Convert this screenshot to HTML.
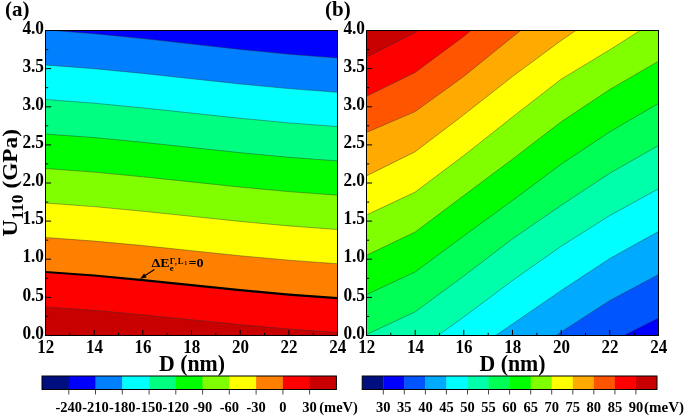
<!DOCTYPE html>
<html lang="en"><head><meta charset="utf-8"><title>Contour maps</title>
<style>html,body{margin:0;padding:0;background:#fff}svg{display:block}text{font-family:"Liberation Serif","Times New Roman",serif;font-weight:bold;fill:#000}</style>
</head><body>
<svg width="685" height="417" viewBox="0 0 685 417">
<rect width="685" height="417" fill="#fff"/>
<defs>
<clipPath id="ca"><rect x="45.5" y="30.5" width="292" height="305"/></clipPath>
<clipPath id="cb"><rect x="366.5" y="30.5" width="292" height="305"/></clipPath>
</defs>
<g clip-path="url(#ca)">
<rect x="45" y="30" width="294" height="306" fill="#C80000"/>
<polygon points="43.5,306.8 45.5,306.9 94.2,310.3 142.8,314.8 191.5,319.7 240.2,324.6 288.8,329 337.5,332.4 339.5,332.5 339.5,-50 43.5,-50" fill="#FF0000"/>
<polygon points="43.5,271.9 45.5,272 94.2,275.5 142.8,280.1 191.5,285.1 240.2,290.1 288.8,294.6 337.5,298.1 339.5,298.2 339.5,-50 43.5,-50" fill="#FF8000"/>
<polygon points="43.5,237.4 45.5,237.5 94.2,241.1 142.8,245.6 191.5,250.7 240.2,255.8 288.8,260.2 337.5,263.8 339.5,263.9 339.5,-50 43.5,-50" fill="#FFFF00"/>
<polygon points="43.5,202.9 45.5,203 94.2,206.6 142.8,211.2 191.5,216.3 240.2,221.4 288.8,225.9 337.5,229.5 339.5,229.6 339.5,-50 43.5,-50" fill="#80FF00"/>
<polygon points="43.5,168.4 45.5,168.5 94.2,172.1 142.8,176.8 191.5,181.9 240.2,187.1 288.8,191.6 337.5,195.2 339.5,195.3 339.5,-50 43.5,-50" fill="#00FF00"/>
<polygon points="43.5,133.9 45.5,134 94.2,137.6 142.8,142.3 191.5,147.5 240.2,152.7 288.8,157.3 337.5,160.9 339.5,161 339.5,-50 43.5,-50" fill="#00FF80"/>
<polygon points="43.5,99.3 45.5,99.5 94.2,103.2 142.8,107.9 191.5,113.1 240.2,118.3 288.8,122.9 337.5,126.6 339.5,126.8 339.5,-50 43.5,-50" fill="#00FFFF"/>
<polygon points="43.5,64.8 45.5,65 94.2,68.7 142.8,73.4 191.5,78.7 240.2,84 288.8,88.6 337.5,92.3 339.5,92.5 339.5,-50 43.5,-50" fill="#0080FF"/>
<polygon points="43.5,29.7 45.5,29.9 94.2,33.7 142.8,38.6 191.5,44 240.2,49.4 288.8,54.2 337.5,58 339.5,58.2 339.5,-50 43.5,-50" fill="#0000FF"/>
<polyline points="43.5,29.7 45.5,29.9 94.2,33.7 142.8,38.6 191.5,44 240.2,49.4 288.8,54.2 337.5,58 339.5,58.2" fill="none" stroke="#303030" stroke-opacity="0.65" stroke-width="0.65"/>
<polyline points="43.5,64.8 45.5,65 94.2,68.7 142.8,73.4 191.5,78.7 240.2,84 288.8,88.6 337.5,92.3 339.5,92.5" fill="none" stroke="#303030" stroke-opacity="0.65" stroke-width="0.65"/>
<polyline points="43.5,99.3 45.5,99.5 94.2,103.2 142.8,107.9 191.5,113.1 240.2,118.3 288.8,122.9 337.5,126.6 339.5,126.8" fill="none" stroke="#303030" stroke-opacity="0.65" stroke-width="0.65"/>
<polyline points="43.5,133.9 45.5,134 94.2,137.6 142.8,142.3 191.5,147.5 240.2,152.7 288.8,157.3 337.5,160.9 339.5,161" fill="none" stroke="#303030" stroke-opacity="0.65" stroke-width="0.65"/>
<polyline points="43.5,168.4 45.5,168.5 94.2,172.1 142.8,176.8 191.5,181.9 240.2,187.1 288.8,191.6 337.5,195.2 339.5,195.3" fill="none" stroke="#303030" stroke-opacity="0.65" stroke-width="0.65"/>
<polyline points="43.5,202.9 45.5,203 94.2,206.6 142.8,211.2 191.5,216.3 240.2,221.4 288.8,225.9 337.5,229.5 339.5,229.6" fill="none" stroke="#303030" stroke-opacity="0.65" stroke-width="0.65"/>
<polyline points="43.5,237.4 45.5,237.5 94.2,241.1 142.8,245.6 191.5,250.7 240.2,255.8 288.8,260.2 337.5,263.8 339.5,263.9" fill="none" stroke="#303030" stroke-opacity="0.65" stroke-width="0.65"/>
<polyline points="43.5,271.9 45.5,272 94.2,275.5 142.8,280.1 191.5,285.1 240.2,290.1 288.8,294.6 337.5,298.1 339.5,298.2" fill="none" stroke="#000" stroke-width="2.2"/>
<polyline points="43.5,306.8 45.5,306.9 94.2,310.3 142.8,314.8 191.5,319.7 240.2,324.6 288.8,329 337.5,332.4 339.5,332.5" fill="none" stroke="#303030" stroke-opacity="0.65" stroke-width="0.65"/>
</g>
<g clip-path="url(#cb)">
<rect x="366" y="30" width="294" height="306" fill="#0000FF"/>
<polygon points="364.5,494.2 366.5,493.3 415.2,471.4 463.8,437.5 512.5,406 561.2,373.5 609.8,342.5 658.5,318.1 660.5,317.1 660.5,-400 364.5,-400" fill="#0055FF"/>
<polygon points="364.5,454.4 366.5,453.5 415.2,431.5 463.8,397.3 512.5,365 561.2,331.9 609.8,300.6 658.5,274.5 660.5,273.4 660.5,-400 364.5,-400" fill="#00AAFF"/>
<polygon points="364.5,414.6 366.5,413.7 415.2,391.6 463.8,357.1 512.5,324 561.2,290.5 609.8,258.5 658.5,231.5 660.5,230.4 660.5,-400 364.5,-400" fill="#00FFFF"/>
<polygon points="364.5,374.8 366.5,373.9 415.2,351.7 463.8,316.9 512.5,280.5 561.2,246.2 609.8,215.5 658.5,188.8 660.5,187.7 660.5,-400 364.5,-400" fill="#00FFAA"/>
<polygon points="364.5,335.4 366.5,334.5 415.2,311.8 463.8,276 512.5,238.8 561.2,205.3 609.8,173.2 658.5,145.5 660.5,144.4 660.5,-400 364.5,-400" fill="#00FF55"/>
<polygon points="364.5,295.5 366.5,294.6 415.2,271.9 463.8,235.9 512.5,200.4 561.2,164.2 609.8,131.8 658.5,103.4 660.5,102.2 660.5,-400 364.5,-400" fill="#00FF00"/>
<polygon points="364.5,256.3 366.5,255.3 415.2,232 463.8,195.6 512.5,159.2 561.2,121.8 609.8,89.5 658.5,61.2 660.5,60 660.5,-400 364.5,-400" fill="#80FF00"/>
<polygon points="364.5,215.9 366.5,215 415.2,192.1 463.8,155.6 512.5,117 561.2,79.2 609.8,49.8 658.5,18.9 660.5,17.7 660.5,-400 364.5,-400" fill="#FFFF00"/>
<polygon points="364.5,176.9 366.5,175.9 415.2,151.7 463.8,114.8 512.5,76.5 561.2,40.5 609.8,7.3 658.5,-23.8 660.5,-25.1 660.5,-400 364.5,-400" fill="#FFAA00"/>
<polygon points="364.5,133.3 366.5,132.4 415.2,111.6 463.8,76.4 512.5,36.9 561.2,-1.1 609.8,-34.6 658.5,-66.5 660.5,-67.9 660.5,-400 364.5,-400" fill="#FF5500"/>
<polygon points="364.5,97.3 366.5,96.3 415.2,72.4 463.8,36.4 512.5,-4.4 561.2,-42.8 609.8,-76.5 658.5,-109.3 660.5,-110.6 660.5,-400 364.5,-400" fill="#FF0000"/>
<polygon points="364.5,58.2 366.5,57.2 415.2,32.5 463.8,-4.7 512.5,-45.4 561.2,-84.4 609.8,-118.4 658.5,-152 660.5,-153.4 660.5,-400 364.5,-400" fill="#C80000"/>
<polyline points="364.5,58.2 366.5,57.2 415.2,32.5 463.8,-4.7 512.5,-45.4 561.2,-84.4 609.8,-118.4 658.5,-152 660.5,-153.4" fill="none" stroke="#303030" stroke-opacity="0.65" stroke-width="0.65"/>
<polyline points="364.5,97.3 366.5,96.3 415.2,72.4 463.8,36.4 512.5,-4.4 561.2,-42.8 609.8,-76.5 658.5,-109.3 660.5,-110.6" fill="none" stroke="#303030" stroke-opacity="0.65" stroke-width="0.65"/>
<polyline points="364.5,133.3 366.5,132.4 415.2,111.6 463.8,76.4 512.5,36.9 561.2,-1.1 609.8,-34.6 658.5,-66.5 660.5,-67.9" fill="none" stroke="#303030" stroke-opacity="0.65" stroke-width="0.65"/>
<polyline points="364.5,176.9 366.5,175.9 415.2,151.7 463.8,114.8 512.5,76.5 561.2,40.5 609.8,7.3 658.5,-23.8 660.5,-25.1" fill="none" stroke="#303030" stroke-opacity="0.65" stroke-width="0.65"/>
<polyline points="364.5,215.9 366.5,215 415.2,192.1 463.8,155.6 512.5,117 561.2,79.2 609.8,49.8 658.5,18.9 660.5,17.7" fill="none" stroke="#303030" stroke-opacity="0.65" stroke-width="0.65"/>
<polyline points="364.5,256.3 366.5,255.3 415.2,232 463.8,195.6 512.5,159.2 561.2,121.8 609.8,89.5 658.5,61.2 660.5,60" fill="none" stroke="#303030" stroke-opacity="0.65" stroke-width="0.65"/>
<polyline points="364.5,295.5 366.5,294.6 415.2,271.9 463.8,235.9 512.5,200.4 561.2,164.2 609.8,131.8 658.5,103.4 660.5,102.2" fill="none" stroke="#303030" stroke-opacity="0.65" stroke-width="0.65"/>
<polyline points="364.5,335.4 366.5,334.5 415.2,311.8 463.8,276 512.5,238.8 561.2,205.3 609.8,173.2 658.5,145.5 660.5,144.4" fill="none" stroke="#303030" stroke-opacity="0.65" stroke-width="0.65"/>
<polyline points="364.5,374.8 366.5,373.9 415.2,351.7 463.8,316.9 512.5,280.5 561.2,246.2 609.8,215.5 658.5,188.8 660.5,187.7" fill="none" stroke="#303030" stroke-opacity="0.65" stroke-width="0.65"/>
<polyline points="364.5,414.6 366.5,413.7 415.2,391.6 463.8,357.1 512.5,324 561.2,290.5 609.8,258.5 658.5,231.5 660.5,230.4" fill="none" stroke="#303030" stroke-opacity="0.65" stroke-width="0.65"/>
<polyline points="364.5,454.4 366.5,453.5 415.2,431.5 463.8,397.3 512.5,365 561.2,331.9 609.8,300.6 658.5,274.5 660.5,273.4" fill="none" stroke="#303030" stroke-opacity="0.65" stroke-width="0.65"/>
<polyline points="364.5,494.2 366.5,493.3 415.2,471.4 463.8,437.5 512.5,406 561.2,373.5 609.8,342.5 658.5,318.1 660.5,317.1" fill="none" stroke="#303030" stroke-opacity="0.65" stroke-width="0.65"/>
</g>
<rect x="45.5" y="30.5" width="292" height="305" fill="none" stroke="#000" stroke-width="1"/>
<path d="M69.8 335.5v-2.7M94.2 335.5v-5.6M118.5 335.5v-2.7M142.8 335.5v-5.6M167.2 335.5v-2.7M191.5 335.5v-5.6M215.8 335.5v-2.7M240.2 335.5v-5.6M264.5 335.5v-2.7M288.8 335.5v-5.6M313.2 335.5v-2.7M45.5 316.4h2.7M45.5 297.4h5.6M45.5 278.3h2.7M45.5 259.2h5.6M45.5 240.2h2.7M45.5 221.1h5.6M45.5 202.1h2.7M45.5 183h5.6M45.5 163.9h2.7M45.5 144.9h5.6M45.5 125.8h2.7M45.5 106.8h5.6M45.5 87.7h2.7M45.5 68.6h5.6M45.5 49.6h2.7" stroke="#000" stroke-width="1" fill="none"/>
<text transform="translate(45.7,353) scale(0.88,1)" font-size="19.3" text-anchor="middle">12</text>
<text transform="translate(94.4,353) scale(0.88,1)" font-size="19.3" text-anchor="middle">14</text>
<text transform="translate(143,353) scale(0.88,1)" font-size="19.3" text-anchor="middle">16</text>
<text transform="translate(191.7,353) scale(0.88,1)" font-size="19.3" text-anchor="middle">18</text>
<text transform="translate(240.4,353) scale(0.88,1)" font-size="19.3" text-anchor="middle">20</text>
<text transform="translate(289,353) scale(0.88,1)" font-size="19.3" text-anchor="middle">22</text>
<text transform="translate(337.7,353) scale(0.88,1)" font-size="19.3" text-anchor="middle">24</text>
<text transform="translate(44,338.6) scale(0.883,1)" font-size="19.6" text-anchor="end">0.0</text>
<text transform="translate(44,300.5) scale(0.883,1)" font-size="19.6" text-anchor="end">0.5</text>
<text transform="translate(44,262.4) scale(0.883,1)" font-size="19.6" text-anchor="end">1.0</text>
<text transform="translate(44,224.2) scale(0.883,1)" font-size="19.6" text-anchor="end">1.5</text>
<text transform="translate(44,186.1) scale(0.883,1)" font-size="19.6" text-anchor="end">2.0</text>
<text transform="translate(44,148) scale(0.883,1)" font-size="19.6" text-anchor="end">2.5</text>
<text transform="translate(44,109.8) scale(0.883,1)" font-size="19.6" text-anchor="end">3.0</text>
<text transform="translate(44,71.7) scale(0.883,1)" font-size="19.6" text-anchor="end">3.5</text>
<text transform="translate(44,33.6) scale(0.883,1)" font-size="19.6" text-anchor="end">4.0</text>
<rect x="366.5" y="30.5" width="292" height="305" fill="none" stroke="#000" stroke-width="1"/>
<path d="M390.8 335.5v-2.7M415.2 335.5v-5.6M439.5 335.5v-2.7M463.8 335.5v-5.6M488.2 335.5v-2.7M512.5 335.5v-5.6M536.8 335.5v-2.7M561.2 335.5v-5.6M585.5 335.5v-2.7M609.8 335.5v-5.6M634.2 335.5v-2.7M366.5 316.4h2.7M366.5 297.4h5.6M366.5 278.3h2.7M366.5 259.2h5.6M366.5 240.2h2.7M366.5 221.1h5.6M366.5 202.1h2.7M366.5 183h5.6M366.5 163.9h2.7M366.5 144.9h5.6M366.5 125.8h2.7M366.5 106.8h5.6M366.5 87.7h2.7M366.5 68.6h5.6M366.5 49.6h2.7" stroke="#000" stroke-width="1" fill="none"/>
<text transform="translate(366.7,353) scale(0.88,1)" font-size="19.3" text-anchor="middle">12</text>
<text transform="translate(415.4,353) scale(0.88,1)" font-size="19.3" text-anchor="middle">14</text>
<text transform="translate(464,353) scale(0.88,1)" font-size="19.3" text-anchor="middle">16</text>
<text transform="translate(512.7,353) scale(0.88,1)" font-size="19.3" text-anchor="middle">18</text>
<text transform="translate(561.4,353) scale(0.88,1)" font-size="19.3" text-anchor="middle">20</text>
<text transform="translate(610,353) scale(0.88,1)" font-size="19.3" text-anchor="middle">22</text>
<text transform="translate(658.7,353) scale(0.88,1)" font-size="19.3" text-anchor="middle">24</text>
<text transform="translate(365,338.6) scale(0.883,1)" font-size="19.6" text-anchor="end">0.0</text>
<text transform="translate(365,300.5) scale(0.883,1)" font-size="19.6" text-anchor="end">0.5</text>
<text transform="translate(365,262.4) scale(0.883,1)" font-size="19.6" text-anchor="end">1.0</text>
<text transform="translate(365,224.2) scale(0.883,1)" font-size="19.6" text-anchor="end">1.5</text>
<text transform="translate(365,186.1) scale(0.883,1)" font-size="19.6" text-anchor="end">2.0</text>
<text transform="translate(365,148) scale(0.883,1)" font-size="19.6" text-anchor="end">2.5</text>
<text transform="translate(365,109.8) scale(0.883,1)" font-size="19.6" text-anchor="end">3.0</text>
<text transform="translate(365,71.7) scale(0.883,1)" font-size="19.6" text-anchor="end">3.5</text>
<text transform="translate(365,33.6) scale(0.883,1)" font-size="19.6" text-anchor="end">4.0</text>
<text x="5" y="16.2" font-size="21">(a)</text>
<text x="325" y="16.2" font-size="21">(b)</text>
<text transform="translate(192,370.6) scale(0.95,1)" font-size="23" text-anchor="middle">D (nm)</text>
<text transform="translate(512.5,370.6) scale(0.95,1)" font-size="23" text-anchor="middle">D (nm)</text>
<text transform="translate(17,182.8) rotate(-90) scale(1.06,1)" font-size="22" text-anchor="middle">U<tspan font-size="16.5" dy="6">110</tspan><tspan dy="-6"> (GPa)</tspan></text>
<text transform="translate(151.5,267.4) scale(1.1,1)" font-size="12.8">ΔE<tspan font-size="8" dy="3.8">e</tspan><tspan font-size="8" dy="-7.6" dx="-3.6" letter-spacing="0.6">Γ,L</tspan><tspan font-size="5.5" dy="1">1</tspan><tspan font-size="12.8" dy="2.8" dx="1.1">=0</tspan></text>
<path d="M154.4 269.5L144 276.3" stroke="#000" stroke-width="1.1" fill="none"/>
<path d="M139.9 279L146.6 277.4L144.1 273.5z" fill="#000"/>
<rect x="42" y="376" width="27.1" height="13.5" fill="#000F80"/>
<rect x="68.8" y="376" width="27.1" height="13.5" fill="#0000FF"/>
<rect x="95.5" y="376" width="27.1" height="13.5" fill="#0080FF"/>
<rect x="122.3" y="376" width="27.1" height="13.5" fill="#00FFFF"/>
<rect x="149.1" y="376" width="27.1" height="13.5" fill="#00FF80"/>
<rect x="175.8" y="376" width="27.1" height="13.5" fill="#00FF00"/>
<rect x="202.6" y="376" width="27.1" height="13.5" fill="#80FF00"/>
<rect x="229.3" y="376" width="27.1" height="13.5" fill="#FFFF00"/>
<rect x="256.1" y="376" width="27.1" height="13.5" fill="#FF8000"/>
<rect x="282.9" y="376" width="27.1" height="13.5" fill="#FF0000"/>
<rect x="309.6" y="376" width="26.8" height="13.5" fill="#C80000"/>
<rect x="42" y="376" width="294.4" height="13.5" fill="none" stroke="#000" stroke-width="1"/>
<path d="M68.8 389.5v5M95.5 389.5v5M122.3 389.5v5M149.1 389.5v5M175.8 389.5v5M202.6 389.5v5M229.3 389.5v5M256.1 389.5v5M282.9 389.5v5M309.6 389.5v5" stroke="#000" stroke-opacity="0.8" stroke-width="0.9" fill="none"/>
<text transform="translate(68.8,411.9) scale(0.935,1)" font-size="15.5" text-anchor="middle">-240</text>
<text transform="translate(95.5,411.9) scale(0.935,1)" font-size="15.5" text-anchor="middle">-210</text>
<text transform="translate(122.3,411.9) scale(0.935,1)" font-size="15.5" text-anchor="middle">-180</text>
<text transform="translate(149.1,411.9) scale(0.935,1)" font-size="15.5" text-anchor="middle">-150</text>
<text transform="translate(175.8,411.9) scale(0.935,1)" font-size="15.5" text-anchor="middle">-120</text>
<text transform="translate(202.6,411.9) scale(0.935,1)" font-size="15.5" text-anchor="middle">-90</text>
<text transform="translate(229.3,411.9) scale(0.935,1)" font-size="15.5" text-anchor="middle">-60</text>
<text transform="translate(256.1,411.9) scale(0.935,1)" font-size="15.5" text-anchor="middle">-30</text>
<text transform="translate(282.9,411.9) scale(0.935,1)" font-size="15.5" text-anchor="middle">0</text>
<text transform="translate(309.6,411.9) scale(0.935,1)" font-size="15.5" text-anchor="middle">30</text>
<text transform="translate(319.3,411.9) scale(0.935,1)" font-size="15.5">(meV)</text>
<rect x="362.2" y="376" width="21.4" height="13.5" fill="#000F80"/>
<rect x="383.3" y="376" width="21.4" height="13.5" fill="#0000FF"/>
<rect x="404.3" y="376" width="21.4" height="13.5" fill="#0055FF"/>
<rect x="425.4" y="376" width="21.4" height="13.5" fill="#00AAFF"/>
<rect x="446.4" y="376" width="21.4" height="13.5" fill="#00FFFF"/>
<rect x="467.5" y="376" width="21.4" height="13.5" fill="#00FFAA"/>
<rect x="488.5" y="376" width="21.4" height="13.5" fill="#00FF55"/>
<rect x="509.6" y="376" width="21.4" height="13.5" fill="#00FF00"/>
<rect x="530.7" y="376" width="21.4" height="13.5" fill="#80FF00"/>
<rect x="551.7" y="376" width="21.4" height="13.5" fill="#FFFF00"/>
<rect x="572.8" y="376" width="21.4" height="13.5" fill="#FFAA00"/>
<rect x="593.8" y="376" width="21.4" height="13.5" fill="#FF5500"/>
<rect x="614.9" y="376" width="21.4" height="13.5" fill="#FF0000"/>
<rect x="635.9" y="376" width="21.1" height="13.5" fill="#C80000"/>
<rect x="362.2" y="376" width="294.8" height="13.5" fill="none" stroke="#000" stroke-width="1"/>
<path d="M383.3 389.5v5M404.3 389.5v5M425.4 389.5v5M446.4 389.5v5M467.5 389.5v5M488.5 389.5v5M509.6 389.5v5M530.7 389.5v5M551.7 389.5v5M572.8 389.5v5M593.8 389.5v5M614.9 389.5v5M635.9 389.5v5" stroke="#000" stroke-opacity="0.8" stroke-width="0.9" fill="none"/>
<text transform="translate(383.3,411.9) scale(0.935,1)" font-size="15.5" text-anchor="middle">30</text>
<text transform="translate(404.3,411.9) scale(0.935,1)" font-size="15.5" text-anchor="middle">35</text>
<text transform="translate(425.4,411.9) scale(0.935,1)" font-size="15.5" text-anchor="middle">40</text>
<text transform="translate(446.4,411.9) scale(0.935,1)" font-size="15.5" text-anchor="middle">45</text>
<text transform="translate(467.5,411.9) scale(0.935,1)" font-size="15.5" text-anchor="middle">50</text>
<text transform="translate(488.5,411.9) scale(0.935,1)" font-size="15.5" text-anchor="middle">55</text>
<text transform="translate(509.6,411.9) scale(0.935,1)" font-size="15.5" text-anchor="middle">60</text>
<text transform="translate(530.7,411.9) scale(0.935,1)" font-size="15.5" text-anchor="middle">65</text>
<text transform="translate(551.7,411.9) scale(0.935,1)" font-size="15.5" text-anchor="middle">70</text>
<text transform="translate(572.8,411.9) scale(0.935,1)" font-size="15.5" text-anchor="middle">75</text>
<text transform="translate(593.8,411.9) scale(0.935,1)" font-size="15.5" text-anchor="middle">80</text>
<text transform="translate(614.9,411.9) scale(0.935,1)" font-size="15.5" text-anchor="middle">85</text>
<text transform="translate(635.9,411.9) scale(0.935,1)" font-size="15.5" text-anchor="middle">90</text>
<text transform="translate(644,411.9) scale(0.97,1)" font-size="15.5">(meV)</text>
</svg>
</body></html>
